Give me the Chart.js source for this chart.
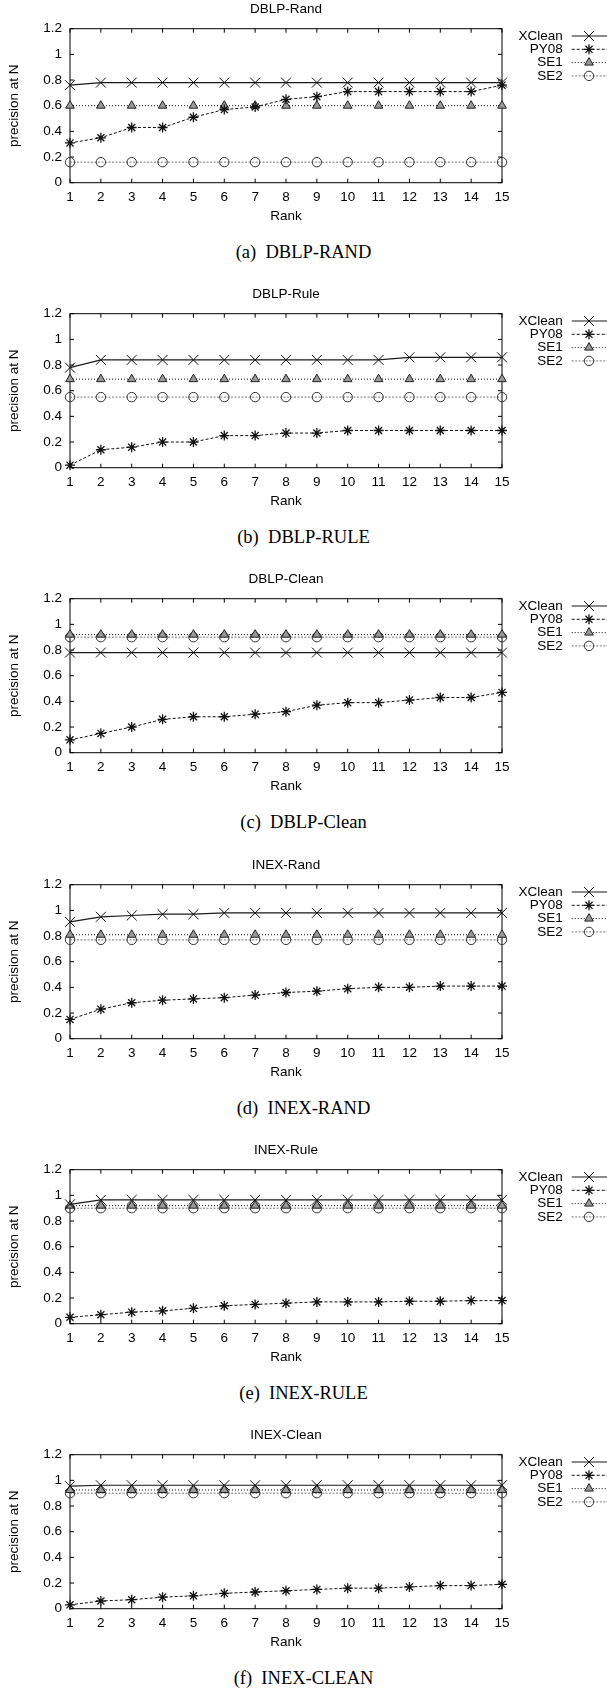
<!DOCTYPE html>
<html>
<head>
<meta charset="utf-8">
<script src="https://cdn.jsdelivr.net/npm/chart.js@4.4.0/dist/chart.umd.min.js"></script>
<style>
  body { margin: 0; background: #fff; width: 607px; height: 1691px; position: relative; overflow: hidden; }
  .panel { position: absolute; left: 0; width: 607px; height: 285px; }
  .panel canvas { position: absolute; left: 0; top: 0; }
  .caption { position: absolute; left: 0; width: 607px; top: 241px; text-align: center;
             font: 18.5px "Liberation Serif", "Times New Roman", serif; line-height: 22px;
             white-space: pre; color: #000; }
</style>
</head>
<body>
<script>
// x categories and y ticks
const ranks = [1, 2, 3, 4, 5, 6, 7, 8, 9, 10, 11, 12, 13, 14, 15];
const yTicks = [0, 0.2, 0.4, 0.6, 0.8, 1, 1.2];
const seriesNames = ['XClean', 'PY08', 'SE1', 'SE2'];

// (a) DBLP-Rand
const dblpRandXClean = [0.76, 0.78, 0.78, 0.78, 0.78, 0.78, 0.78, 0.78, 0.78, 0.78, 0.78, 0.78, 0.78, 0.78, 0.78];
const dblpRandPY08   = [0.31, 0.35, 0.43, 0.43, 0.51, 0.57, 0.59, 0.65, 0.67, 0.71, 0.71, 0.71, 0.71, 0.71, 0.76];
const dblpRandSE1    = [0.6, 0.6, 0.6, 0.6, 0.6, 0.6, 0.6, 0.6, 0.6, 0.6, 0.6, 0.6, 0.6, 0.6, 0.6];
const dblpRandSE2    = [0.16, 0.16, 0.16, 0.16, 0.16, 0.16, 0.16, 0.16, 0.16, 0.16, 0.16, 0.16, 0.16, 0.16, 0.16];

// (b) DBLP-Rule
const dblpRuleXClean = [0.78, 0.84, 0.84, 0.84, 0.84, 0.84, 0.84, 0.84, 0.84, 0.84, 0.84, 0.86, 0.86, 0.86, 0.86];
const dblpRulePY08   = [0.02, 0.14, 0.16, 0.2, 0.2, 0.25, 0.25, 0.27, 0.27, 0.29, 0.29, 0.29, 0.29, 0.29, 0.29];
const dblpRuleSE1    = [0.69, 0.69, 0.69, 0.69, 0.69, 0.69, 0.69, 0.69, 0.69, 0.69, 0.69, 0.69, 0.69, 0.69, 0.69];
const dblpRuleSE2    = [0.55, 0.55, 0.55, 0.55, 0.55, 0.55, 0.55, 0.55, 0.55, 0.55, 0.55, 0.55, 0.55, 0.55, 0.55];

// (c) DBLP-Clean
const dblpCleanXClean = [0.78, 0.78, 0.78, 0.78, 0.78, 0.78, 0.78, 0.78, 0.78, 0.78, 0.78, 0.78, 0.78, 0.78, 0.78];
const dblpCleanPY08   = [0.1, 0.15, 0.2, 0.26, 0.28, 0.28, 0.3, 0.32, 0.37, 0.39, 0.39, 0.41, 0.43, 0.43, 0.47];
const dblpCleanSE1    = [0.92, 0.92, 0.92, 0.92, 0.92, 0.92, 0.92, 0.92, 0.92, 0.92, 0.92, 0.92, 0.92, 0.92, 0.92];
const dblpCleanSE2    = [0.9, 0.9, 0.9, 0.9, 0.9, 0.9, 0.9, 0.9, 0.9, 0.9, 0.9, 0.9, 0.9, 0.9, 0.9];

// (d) INEX-Rand
const inexRandXClean = [0.91, 0.95, 0.96, 0.97, 0.97, 0.98, 0.98, 0.98, 0.98, 0.98, 0.98, 0.98, 0.98, 0.98, 0.98];
const inexRandPY08   = [0.15, 0.23, 0.28, 0.3, 0.31, 0.32, 0.34, 0.36, 0.37, 0.39, 0.4, 0.4, 0.41, 0.41, 0.41];
const inexRandSE1    = [0.81, 0.81, 0.81, 0.81, 0.81, 0.81, 0.81, 0.81, 0.81, 0.81, 0.81, 0.81, 0.81, 0.81, 0.81];
const inexRandSE2    = [0.77, 0.77, 0.77, 0.77, 0.77, 0.77, 0.77, 0.77, 0.77, 0.77, 0.77, 0.77, 0.77, 0.77, 0.77];

// (e) INEX-Rule
const inexRuleXClean = [0.93, 0.965, 0.965, 0.965, 0.965, 0.965, 0.965, 0.965, 0.965, 0.965, 0.965, 0.965, 0.965, 0.965, 0.965];
const inexRulePY08   = [0.05, 0.07, 0.09, 0.1, 0.12, 0.14, 0.15, 0.16, 0.17, 0.17, 0.17, 0.175, 0.175, 0.18, 0.18];
const inexRuleSE1    = [0.92, 0.92, 0.92, 0.92, 0.92, 0.92, 0.92, 0.92, 0.92, 0.92, 0.92, 0.92, 0.92, 0.92, 0.92];
const inexRuleSE2    = [0.9, 0.9, 0.9, 0.9, 0.9, 0.9, 0.9, 0.9, 0.9, 0.9, 0.9, 0.9, 0.9, 0.9, 0.9];

// (f) INEX-Clean
const inexCleanXClean = [0.955, 0.962, 0.962, 0.962, 0.962, 0.962, 0.962, 0.962, 0.962, 0.962, 0.962, 0.962, 0.962, 0.962, 0.962];
const inexCleanPY08   = [0.03, 0.06, 0.07, 0.09, 0.1, 0.12, 0.13, 0.14, 0.15, 0.16, 0.16, 0.17, 0.18, 0.18, 0.19];
const inexCleanSE1    = [0.925, 0.925, 0.925, 0.925, 0.925, 0.925, 0.925, 0.925, 0.925, 0.925, 0.925, 0.925, 0.925, 0.925, 0.925];
const inexCleanSE2    = [0.9, 0.9, 0.9, 0.9, 0.9, 0.9, 0.9, 0.9, 0.9, 0.9, 0.9, 0.9, 0.9, 0.9, 0.9];

const panels = [
  { title: 'DBLP-Rand',  caption: '(a)  DBLP-RAND',  series: [dblpRandXClean, dblpRandPY08, dblpRandSE1, dblpRandSE2] },
  { title: 'DBLP-Rule',  caption: '(b)  DBLP-RULE',  series: [dblpRuleXClean, dblpRulePY08, dblpRuleSE1, dblpRuleSE2] },
  { title: 'DBLP-Clean', caption: '(c)  DBLP-Clean', series: [dblpCleanXClean, dblpCleanPY08, dblpCleanSE1, dblpCleanSE2] },
  { title: 'INEX-Rand',  caption: '(d)  INEX-RAND',  series: [inexRandXClean, inexRandPY08, inexRandSE1, inexRandSE2] },
  { title: 'INEX-Rule',  caption: '(e)  INEX-RULE',  series: [inexRuleXClean, inexRulePY08, inexRuleSE1, inexRuleSE2] },
  { title: 'INEX-Clean', caption: '(f)  INEX-CLEAN', series: [inexCleanXClean, inexCleanPY08, inexCleanSE1, inexCleanSE2] }
];
const panelTops = [0, 285, 570, 856, 1141, 1426];

// gnuplot-ish line / point styles
const seriesStyle = [
  { borderColor: '#1a1a1a', borderWidth: 1.2, borderDash: [],
    pointStyle: 'crossRot', pointRadius: 7, pointBorderColor: '#111', pointBackgroundColor: '#111', pointBorderWidth: 1 },
  { borderColor: '#111', borderWidth: 1, borderDash: [3, 2],
    pointStyle: 'star', pointRadius: 5, pointBorderColor: '#111', pointBackgroundColor: '#111', pointBorderWidth: 1.3 },
  { borderColor: '#111', borderWidth: 1, borderDash: [1, 2],
    pointStyle: 'triangle', pointRadius: 5, pointBorderColor: '#222', pointBackgroundColor: '#999', pointBorderWidth: 1 },
  { borderColor: '#777', borderWidth: 1, borderDash: [2, 1.5],
    pointStyle: 'circle', pointRadius: 4.7, pointBorderColor: '#333', pointBackgroundColor: 'rgba(0,0,0,0)', pointBorderWidth: 1 }
];

const family = '"Liberation Sans", Arial, Helvetica, sans-serif';
const txt = { size: 13.5, family: family };

// full frame with inward ticks, like gnuplot
const frameTicks = {
  id: 'frameTicks',
  beforeDatasetsDraw(chart) {
    const { ctx, chartArea: a, scales } = chart;
    ctx.save();
    ctx.strokeStyle = '#000';
    ctx.lineWidth = 1;
    ctx.setLineDash([]);
    ctx.strokeRect(a.left, a.top, a.right - a.left, a.bottom - a.top);
    ctx.beginPath();
    scales.x.ticks.forEach((t, i) => {
      const px = scales.x.getPixelForTick(i);
      ctx.moveTo(px, a.bottom); ctx.lineTo(px, a.bottom - 4);
      ctx.moveTo(px, a.top); ctx.lineTo(px, a.top + 4);
    });
    scales.y.ticks.forEach(t => {
      const py = scales.y.getPixelForValue(t.value);
      ctx.moveTo(a.left, py); ctx.lineTo(a.left + 4, py);
      ctx.moveTo(a.right, py); ctx.lineTo(a.right - 4, py);
    });
    ctx.stroke();
    ctx.restore();
  }
};

// key at the right: text, then line sample with the marker on it
const sideLegend = {
  id: 'sideLegend',
  afterDraw(chart) {
    const ctx = chart.ctx;
    chart.data.datasets.forEach((ds, i) => {
      const yy = 36 + i * 13.3;
      ctx.save();
      ctx.font = '13.5px ' + family;
      ctx.textAlign = 'right';
      ctx.textBaseline = 'middle';
      ctx.fillStyle = '#000';
      ctx.fillText(ds.label, 562.7, yy);
      ctx.strokeStyle = ds.borderColor;
      ctx.lineWidth = ds.borderWidth;
      ctx.setLineDash(ds.borderDash);
      ctx.beginPath();
      ctx.moveTo(571.7, yy);
      ctx.lineTo(607, yy);
      ctx.stroke();
      ctx.restore();
      // reuse the dataset's own point element for the marker
      const el = chart.getDatasetMeta(i).data[0];
      const ox = el.x, oy = el.y;
      el.x = 589; el.y = yy;
      ctx.save();
      el.draw(ctx);
      ctx.restore();
      el.x = ox; el.y = oy;
    });
  }
};

panels.forEach((p, k) => {
  const div = document.createElement('div');
  div.className = 'panel';
  div.style.top = panelTops[k] + 'px';
  const canvas = document.createElement('canvas');
  canvas.width = 607;
  canvas.height = 232;
  div.appendChild(canvas);
  const cap = document.createElement('div');
  cap.className = 'caption';
  cap.textContent = p.caption;
  div.appendChild(cap);
  document.body.appendChild(div);

  new Chart(canvas, {
    type: 'line',
    data: {
      labels: ranks,
      datasets: p.series.map((vals, i) => Object.assign({
        label: seriesNames[i],
        data: vals,
        tension: 0,
        fill: false,
        clip: false
      }, seriesStyle[i]))
    },
    options: {
      responsive: false,
      animation: false,
      devicePixelRatio: 1,
      layout: { padding: { left: 0, right: 105, top: 0, bottom: 0 } },
      plugins: {
        legend: { display: false },
        tooltip: { enabled: false },
        title: {
          display: true,
          text: p.title,
          fullSize: false,
          color: '#000',
          font: { size: 13.5, family: family, weight: 'normal' },
          padding: { top: 1, bottom: 11.5 }
        }
      },
      scales: {
        x: {
          type: 'category',
          offset: false,
          grid: { display: false, drawTicks: false },
          border: { display: false },
          ticks: { color: '#000', font: txt, padding: 6, autoSkip: false, maxRotation: 0 },
          title: { display: true, text: 'Rank', color: '#000', font: txt, padding: { top: 0, bottom: 7.6 } },
          afterFit(s) { s.height = 49.3; }
        },
        y: {
          min: 0,
          max: 1.2,
          grid: { display: false, drawTicks: false },
          border: { display: false },
          afterBuildTicks(s) { s.ticks = yTicks.map(v => ({ value: v })); },
          ticks: { color: '#000', font: txt, padding: 8, callback: v => String(v) },
          title: { display: true, text: 'precision at N', color: '#000', font: txt, padding: { top: 6.6, bottom: 0 } },
          afterFit(s) { s.width = 70; }
        }
      }
    },
    plugins: [frameTicks, sideLegend]
  });
});
</script>
</body>
</html>
